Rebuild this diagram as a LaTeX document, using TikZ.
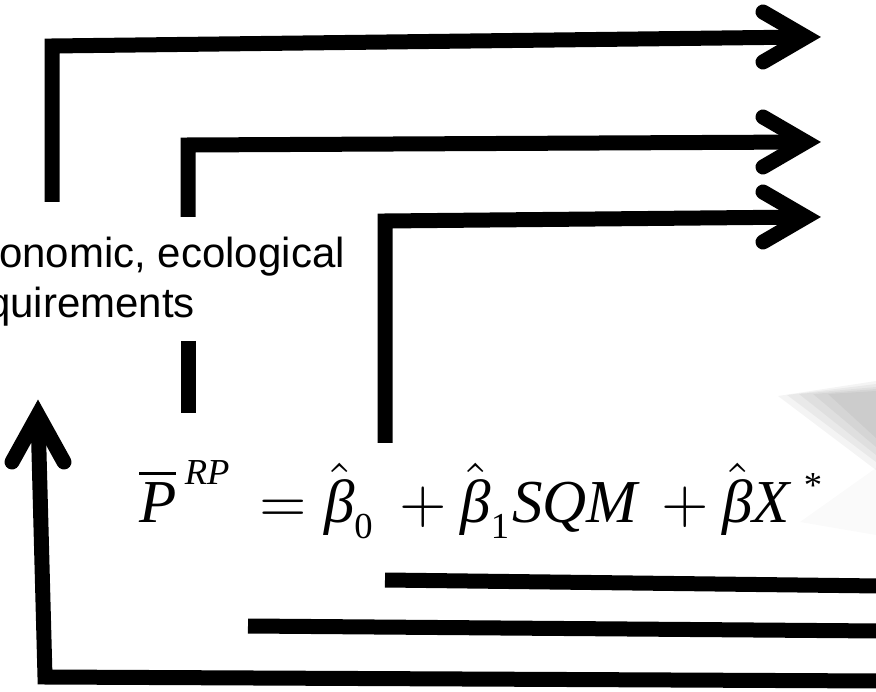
\documentclass[tikz,border=0pt]{standalone}
\usepackage{fontspec}
\setmainfont{Liberation Sans}
\newfontfamily\tmsfont{Liberation Serif}
\newcommand\eqi[1]{\hbox{\tmsfont\itshape #1}}
\newcommand\eqs[1]{\hbox{\tmsfont\fontsize{6.0}{7}\selectfont #1}}
\usetikzlibrary{calc}
\tikzset{
  conn/.style={line width=15pt, line join=miter, line cap=butt, black},
  chev/.style={line width=15pt, line join=miter, line cap=round, black},
  lbl/.style={inner sep=0pt, font=\fontsize{42}{50}\selectfont},
  eqn/.style={inner sep=0pt, scale=6.1},
  shad/.style={fill=black, opacity=0.042},
}
\begin{document}
\begin{tikzpicture}[x=1pt,y=-1pt]
\useasboundingbox (0,0) rectangle (876,692);
\clip (0,0) rectangle (876,692);
% soft grey shadow at right
\fill[shad] (778,396) -- (876,381) -- (876,470) -- cycle;
\fill[shad] (787,395) -- (876,384) -- (876,462) -- cycle;
\fill[shad] (799,394) -- (876,387) -- (876,455) -- cycle;
\fill[shad] (813,394) -- (876,389) -- (876,447) -- cycle;
\fill[shad] (828,394) -- (876,391) -- (876,438) -- cycle;
\fill[black, opacity=0.02] (800,522) -- (876,468) -- (876,535) -- cycle;

% label text
\node[lbl, anchor=base east] (l1) at (345,268) {onomic, ecological};
\node[lbl, anchor=base east] (l2) at (195,318) {quirements};

% equation
\node[eqn, anchor=base west] (eq) at (138,522)
  {$\overline{\eqi{P}}^{\,\eqs{\itshape RP}}\,\mathrel{=} \hat{\eqi{β}}_{\eqs{0}} \,\mathbin{+} \hat{\eqi{β}}_{\eqs{1}}\eqi{SQM} \,\mathbin{+} \hat{\eqi{β}}\eqi{X}^{\;\eqs{*}}$};

% arrow 1
\coordinate (a1s) at (52,202);
\coordinate (a1c) at (52,46);
\coordinate (a1t) at (806,37);
\draw[conn] (a1s) -- (a1c) -- (a1t);
\draw[chev] ($(a1t)+(-43,-25)$) -- (a1t) -- ($(a1t)+(-43,25)$);

% arrow 2
\coordinate (a2s) at (188,217);
\coordinate (a2c) at (188,145);
\coordinate (a2t) at (806,142);
\draw[conn] (a2s) -- (a2c) -- (a2t);
\draw[chev] ($(a2t)+(-43,-25)$) -- (a2t) -- ($(a2t)+(-43,25)$);
\coordinate (d1) at (188,341);
\coordinate (d2) at (188,413);
\draw[conn] (d1) -- (d2);

% arrow 3
\coordinate (a3s) at (385,443);
\coordinate (a3c) at (385,221);
\coordinate (a3t) at (806,217);
\draw[conn] (a3s) -- (a3c) -- (a3t);
\draw[chev] ($(a3t)+(-43,-25)$) -- (a3t) -- ($(a3t)+(-43,25)$);

% lower lines
\coordinate (b1s) at (385,580);
\coordinate (b1e) at (880,586);
\draw[conn] (b1s) -- (b1e);
\coordinate (b2s) at (248,626);
\coordinate (b2e) at (880,631);
\draw[conn] (b2s) -- (b2e);

% left up arrow
\coordinate (a4s) at (880,681);
\coordinate (a4c) at (45,677);
\coordinate (a4t) at (38,415);
\draw[conn] (a4s) -- (a4c) -- (a4t);
\draw[chev] ($(a4t)+(-26,47)$) -- (a4t) -- ($(a4t)+(26,47)$);
\end{tikzpicture}
\end{document}
